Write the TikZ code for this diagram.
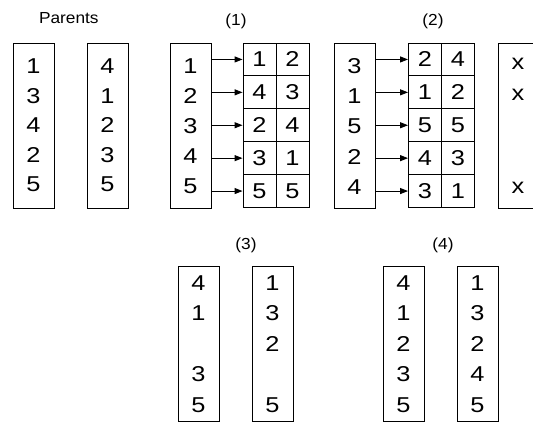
\documentclass[tikz,border=0pt]{standalone}
\usepackage{fontspec}
\setmainfont{Liberation Sans}
\newfontfamily\digfam[FakeStretch=1.18]{Liberation Sans}
\newfontfamily\lblfam[FakeStretch=1.08]{Liberation Sans}
\usetikzlibrary{arrows.meta}
\newcommand{\digfont}{\digfam\fontsize{21.5}{26}\selectfont}
\newcommand{\lblfont}{\lblfam\fontsize{16}{19}\selectfont}
\begin{document}
\begin{tikzpicture}[x=1pt,y=-1pt,
  box/.style={draw, line width=0.9pt, minimum width=41pt, inner sep=0pt},
  topbox/.style={box, minimum height=165.5pt},
  botbox/.style={box, minimum height=155.3pt},
  cell/.style={draw, line width=0.9pt, minimum width=33pt, minimum height=32.9pt, inner sep=0pt, font=\digfont},
  dig/.style={inner sep=0pt, font=\digfont},
  lbl/.style={inner sep=0pt, anchor=base, font=\lblfont},
  arr/.style={line width=0.9pt, -{Triangle[length=8pt,width=6pt]}}]
\useasboundingbox (0,0) rectangle (533,422);

% labels
\node[lbl] (lP) at (68.8,24) {Parents};
\node[lbl] (l1) at (236,25.5) {(1)};
\node[lbl] (l2) at (433,25.5) {(2)};
\node[lbl] (l3) at (246,249.5) {(3)};
\node[lbl] (l4) at (443,249.5) {(4)};

% top boxes
\node[topbox] (p1) at (33.5,125.75) {};
\node[topbox] (p2) at (107.5,125.75) {};
\node[topbox] (a1) at (190.5,125.75) {};
\node[topbox] (a2) at (354.5,125.75) {};
\node[topbox] (xb) at (518.5,125.75) {};

% parents digits
\foreach \v [count=\i from 0] in {1,3,4,2,5}
  \node[dig] (p1d\i) at (33.5,66.6+29.4*\i) {\v};
\foreach \v [count=\i from 0] in {4,1,2,3,5}
  \node[dig] (p2d\i) at (107.5,66.6+29.4*\i) {\v};

% (1) and (2) left digits
\foreach \v [count=\i from 0] in {1,2,3,4,5}
  \node[dig] (a1d\i) at (190.5,66.3+30.1*\i) {\v};
\foreach \v [count=\i from 0] in {3,1,5,2,4}
  \node[dig] (a2d\i) at (354.5,66.3+30.1*\i) {\v};

% grids
\foreach \l/\r [count=\i from 0] in {1/2,4/3,2/4,3/1,5/5} {
  \node[cell] (g1l\i) at (259.5,59.45+32.9*\i) {\l};
  \node[cell] (g1r\i) at (292.5,59.45+32.9*\i) {\r};
  \draw[arr] (g1l\i.west -| a1.east) -- (g1l\i.west);
}
\foreach \l/\r [count=\i from 0] in {2/4,1/2,5/5,4/3,3/1} {
  \node[cell] (g2l\i) at (425,59.45+32.9*\i) {\l};
  \node[cell] (g2r\i) at (458,59.45+32.9*\i) {\r};
  \draw[arr] (g2l\i.west -| a2.east) -- (g2l\i.west);
}

% x marks
\node[dig] (x0) at (518,64.3) {x};
\node[dig] (x1) at (518,94.8) {x};
\node[dig] (x2) at (518,188) {x};

% bottom boxes
\node[botbox] (c1) at (198.5,343.65) {};
\node[botbox] (c2) at (272.5,343.65) {};
\node[botbox] (d1) at (403.5,343.65) {};
\node[botbox] (d2) at (477.5,343.65) {};

\foreach \v/\i in {4/0,1/1,3/3,5/4}
  \node[dig] (c1d\i) at (198.5,283+30.5*\i) {\v};
\foreach \v/\i in {1/0,3/1,2/2,5/4}
  \node[dig] (c2d\i) at (272.5,283+30.5*\i) {\v};
\foreach \v [count=\i from 0] in {4,1,2,3,5}
  \node[dig] (d1d\i) at (403.5,283+30.5*\i) {\v};
\foreach \v [count=\i from 0] in {1,3,2,4,5}
  \node[dig] (d2d\i) at (477.5,283+30.5*\i) {\v};
\end{tikzpicture}
\end{document}
